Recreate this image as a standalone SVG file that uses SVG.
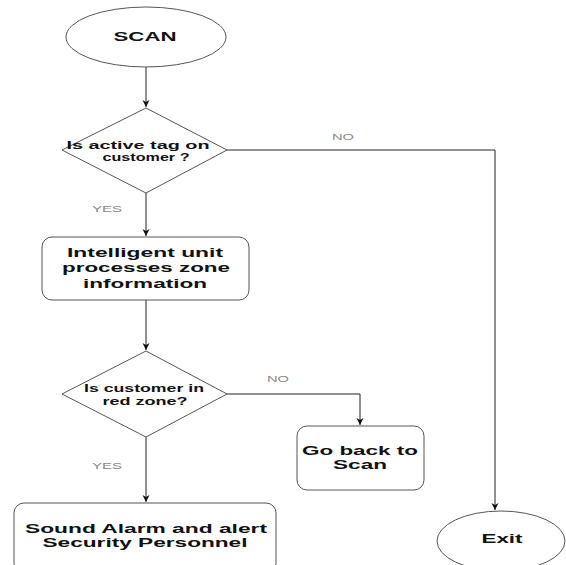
<svg xmlns="http://www.w3.org/2000/svg" width="566" height="565" viewBox="0 0 566 565">
<defs>
<marker id="ah" markerWidth="8" markerHeight="8" refX="7" refY="4" orient="auto" markerUnits="userSpaceOnUse">
<path d="M0,0.5 L7,4 L0,7.5 L2,4 Z" fill="#111"/>
</marker>
<style>
.shape{fill:#fff;stroke:#555;stroke-width:1}
.t{font-family:"Liberation Sans",Arial,sans-serif;font-weight:bold;fill:#111;text-anchor:middle}
.lbl{font-family:"Liberation Sans",Arial,sans-serif;fill:#888;font-size:9px;text-anchor:middle}
.c{fill:none;stroke:#222;stroke-width:1}
</style>
</defs>
<rect width="566" height="565" fill="#fff"/>
<g id="connectors">
<path class="c" d="M146,67 V107" marker-end="url(#ah)"/>
<path class="c" d="M146,193 V236" marker-end="url(#ah)"/>
<path class="c" d="M146,300 V350" marker-end="url(#ah)"/>
<path class="c" d="M227,394 H360 V425" marker-end="url(#ah)"/>
<path class="c" d="M146,437 V502" marker-end="url(#ah)"/>
<path class="c" d="M227,150 H495 V510" marker-end="url(#ah)"/>
<text class="lbl" x="343" y="140" textLength="22" lengthAdjust="spacingAndGlyphs">NO</text>
<text class="lbl" x="107" y="212" textLength="30" lengthAdjust="spacingAndGlyphs">YES</text>
<text class="lbl" x="278" y="382" textLength="22" lengthAdjust="spacingAndGlyphs">NO</text>
<text class="lbl" x="107" y="469" textLength="30" lengthAdjust="spacingAndGlyphs">YES</text>
</g>
<g id="scan">
<ellipse class="shape" cx="146" cy="37" rx="80" ry="30"/>
<text class="t" x="145" y="41" font-size="13" textLength="63" lengthAdjust="spacingAndGlyphs">SCAN</text>
</g>
<g id="decision1">
<polygon class="shape" points="146,108 227,150 146,193 62,150"/>
<text class="t" x="138" y="149" font-size="10" textLength="143" lengthAdjust="spacingAndGlyphs">Is active tag on</text>
<text class="t" x="146" y="161" font-size="10" textLength="87" lengthAdjust="spacingAndGlyphs">customer ?</text>
</g>
<g id="process">
<rect class="shape" x="42" y="237" width="207" height="63" rx="10"/>
<text class="t" x="145" y="257" font-size="13" textLength="156" lengthAdjust="spacingAndGlyphs">Intelligent unit</text>
<text class="t" x="146" y="272" font-size="13" textLength="168" lengthAdjust="spacingAndGlyphs">processes zone</text>
<text class="t" x="145" y="288" font-size="13" textLength="124" lengthAdjust="spacingAndGlyphs">information</text>
</g>
<g id="decision2">
<polygon class="shape" points="146,351 227,394 146,437 62,394"/>
<text class="t" x="144" y="392" font-size="10" textLength="120" lengthAdjust="spacingAndGlyphs">Is customer in</text>
<text class="t" x="145" y="405" font-size="10" textLength="85" lengthAdjust="spacingAndGlyphs">red zone?</text>
</g>
<g id="goback">
<rect class="shape" x="297" y="426" width="127" height="64" rx="10"/>
<text class="t" x="360" y="455" font-size="12" textLength="116" lengthAdjust="spacingAndGlyphs">Go back to</text>
<text class="t" x="360" y="469" font-size="12" textLength="54" lengthAdjust="spacingAndGlyphs">Scan</text>
</g>
<g id="alarm">
<rect class="shape" x="14" y="503" width="262" height="70" rx="10"/>
<text class="t" x="146" y="533" font-size="12" textLength="242" lengthAdjust="spacingAndGlyphs">Sound Alarm and alert</text>
<text class="t" x="145" y="547" font-size="12" textLength="205" lengthAdjust="spacingAndGlyphs">Security Personnel</text>
</g>
<g id="exit">
<ellipse class="shape" cx="501" cy="541" rx="64" ry="30"/>
<text class="t" x="502" y="543" font-size="12" textLength="41" lengthAdjust="spacingAndGlyphs">Exit</text>
</g>
</svg>
